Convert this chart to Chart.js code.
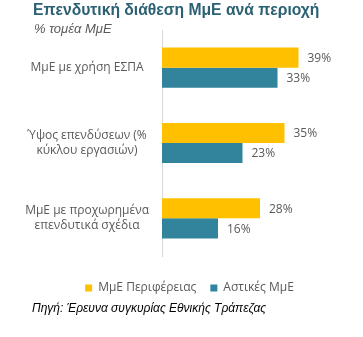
<!DOCTYPE html>
<html>
<head>
<meta charset="utf-8">
<script src="https://cdn.jsdelivr.net/npm/chart.js@4"></script>
<style>
  body { margin: 0; background: #fff; width: 363px; height: 337px; overflow: hidden; position: relative; }
  #wrap { position: absolute; left: 0; top: 0; width: 363px; height: 337px; }
  .title { position: absolute; left: 33px; top: 1px; font: bold 15.7px "Liberation Sans", Arial, sans-serif; color: #2b6173; white-space: nowrap; }
  .sub { position: absolute; left: 34px; top: 21px; font: italic 13px "Liberation Sans", Arial, sans-serif; color: #595959; white-space: nowrap; }
  .src { position: absolute; left: 32px; top: 301px; font: italic 12px "Liberation Sans", Arial, sans-serif; color: #000; white-space: nowrap; }
</style>
</head>
<body>
<div id="wrap"><canvas id="chart" width="363" height="337"></canvas></div>
<div class="title">Επενδυτική διάθεση ΜμΕ ανά περιοχή</div>
<div class="sub">% τομέα ΜμΕ</div>
<div class="src">Πηγή: Έρευνα συγκυρίας Εθνικής Τράπεζας</div>
<script>
const categories = [
  'ΜμΕ με χρήση ΕΣΠΑ',
  ['Ύψος επενδύσεων (%', 'κύκλου εργασιών)'],
  ['ΜμΕ με προχωρημένα', 'επενδυτικά σχέδια']
];
const seriesNames = ['ΜμΕ Περιφέρειας', 'Αστικές ΜμΕ'];
const regional = [39, 35, 28];
const urban = [33, 23, 16];
const colors = ['#FFC000', '#31849B'];

const valueLabels = {
  id: 'valueLabels',
  afterDatasetsDraw(chart) {
    const ctx = chart.ctx;
    ctx.save();
    ctx.font = '12px "Open Sans", sans-serif';
    ctx.fillStyle = '#595959';
    ctx.textAlign = 'left';
    ctx.textBaseline = 'middle';
    chart.data.datasets.forEach((ds, i) => {
      chart.getDatasetMeta(i).data.forEach((bar, j) => {
        ctx.fillText(ds.data[j] + '%', bar.x + 9, bar.y + 1);
      });
    });
    ctx.restore();
  }
};

// legend sits a bit right of the canvas centre in the original
const legendShift = {
  id: 'legendShift',
  afterLayout(chart) {
    chart.legend.left += 16;
    chart.legend.right += 16;
  }
};

new Chart(document.getElementById('chart'), {
  type: 'bar',
  data: {
    labels: categories,
    datasets: [
      { label: seriesNames[0], data: regional, backgroundColor: colors[0] },
      { label: seriesNames[1], data: urban, backgroundColor: colors[1] }
    ]
  },
  options: {
    indexAxis: 'y',
    responsive: false,
    animation: false,
    categoryPercentage: 0.533,
    barPercentage: 1,
    layout: { padding: { top: 30, left: 10, right: 26, bottom: 33 } },
    scales: {
      x: {
        min: 0, max: 50,
        display: true,
        grid: { display: false },
        border: { display: false },
        ticks: { display: false },
        title: { display: true, text: '', font: { size: 1, lineHeight: 1 }, padding: { top: 3, bottom: 0 } }
      },
      y: {
        grid: { display: false, drawTicks: false },
        border: { display: true, color: '#d9d9d9', width: 1 },
        ticks: {
          padding: 13,
          crossAlign: 'center',
          color: '#595959',
          font: { family: '"Open Sans", sans-serif', size: 12, lineHeight: 1.25 }
        },
        afterFit(s) { s.width = 152; }
      }
    },
    plugins: {
      legend: {
        position: 'bottom',
        labels: {
          boxWidth: 7, boxHeight: 7,
          padding: 14,
          color: '#595959',
          font: { family: '"Open Sans", sans-serif', size: 12 }
        }
      },
      tooltip: { enabled: false }
    }
  },
  plugins: [valueLabels, legendShift]
});
</script>
</body>
</html>
